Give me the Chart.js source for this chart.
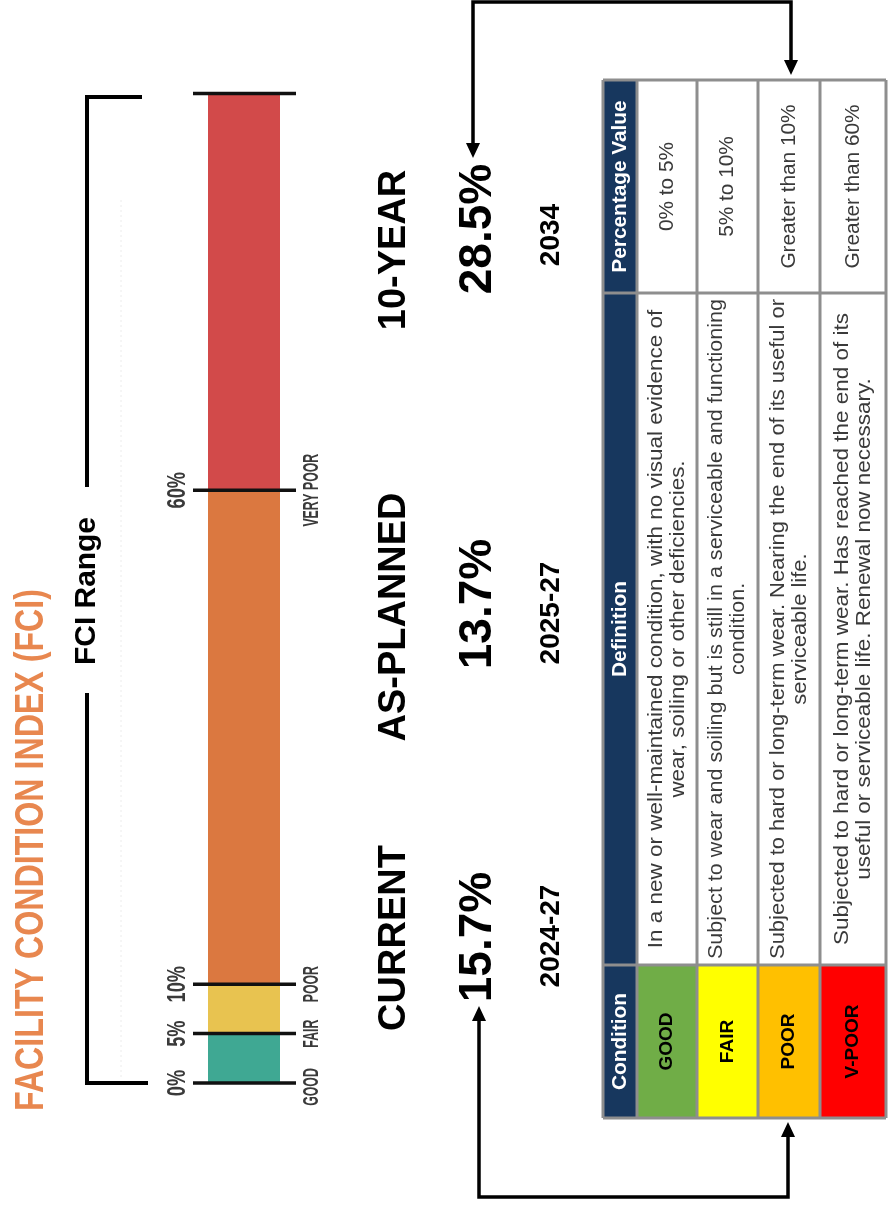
<!DOCTYPE html>
<html>
<head>
<meta charset="utf-8">
<title>Facility Condition Index (FCI)</title>
<script src="https://cdn.jsdelivr.net/npm/chart.js@4.4.1/dist/chart.umd.min.js"></script>
<style>
  html, body { margin: 0; padding: 0; background: #fff; }
  #fci { display: block; }
</style>
</head>
<body>
<canvas id="fci" width="888" height="1209"></canvas>
<script>
// FCI bands (stacked bar, 0% at the bottom)
const bandNames = ['GOOD', 'FAIR', 'POOR', 'VERY POOR'];
const bandSpans = [5, 5, 50, 40];
const bandColors = ['#3fa893', '#e8c350', '#db7840', '#d24a4a'];
const tickValues = [0, 5, 10, 60, 100];
const tickLabels = ['0%', '5%', '10%', '60%', ''];
const bandLabelAt = [0, 5, 10, 60];

// FCI figures
const periods = ['CURRENT', 'AS-PLANNED', '10-YEAR'];
const fciValues = [15.7, 13.7, 28.5];
const periodYears = ['2024-27', '2025-27', '2034'];

// condition table
const tableHeaders = ['Condition', 'Definition', 'Percentage Value'];
const conditions = ['GOOD', 'FAIR', 'POOR', 'V-POOR'];
const conditionColors = ['#70ad47', '#ffff00', '#ffc000', '#ff0000'];
const definitions = [
  ['In a new or well-maintained condition, with no visual evidence of', 'wear, soiling or other deficiencies.'],
  ['Subject to wear and soiling but is still in a serviceable and functioning', 'condition.'],
  ['Subjected to hard or long-term wear. Nearing the end of its useful or', 'serviceable life.'],
  ['Subjected to hard or long-term wear. Has reached the end of its', 'useful or serviceable life. Renewal now necessary.']
];
const pctRanges = ['0% to 5%', '5% to 10%', 'Greater than 10%', 'Greater than 60%'];

const SANS = '"Liberation Sans", Arial, sans-serif';

// text turned to read bottom-to-top, optionally squeezed/stretched to a length
const vText = (ctx, text, cx, cy, font, color, opts = {}) => {
  ctx.save();
  ctx.translate(cx, cy);
  ctx.rotate(-Math.PI / 2);
  ctx.font = font;
  ctx.fillStyle = color;
  ctx.textAlign = 'center';
  ctx.textBaseline = 'middle';
  const w = ctx.measureText(text).width;
  if (opts.length) ctx.scale(opts.length / w, 1);
  else if (opts.sx) ctx.scale(opts.sx, 1);
  ctx.fillText(text, 0, 0);
  ctx.restore();
};

const line = (ctx, pts, width, color) => {
  ctx.save();
  ctx.strokeStyle = color || '#000';
  ctx.lineWidth = width;
  ctx.lineJoin = 'miter';
  ctx.beginPath();
  pts.forEach((p, i) => i ? ctx.lineTo(p[0], p[1]) : ctx.moveTo(p[0], p[1]));
  ctx.stroke();
  ctx.restore();
};

const arrowHead = (ctx, x, y, dir) => {
  // dir: 1 = pointing down, -1 = pointing up
  ctx.save();
  ctx.fillStyle = '#000';
  ctx.beginPath();
  ctx.moveTo(x, y);
  ctx.lineTo(x - 7, y - dir * 15);
  ctx.lineTo(x + 7, y - dir * 15);
  ctx.closePath();
  ctx.fill();
  ctx.restore();
};

const fciExtras = {
  id: 'fciExtras',
  beforeDraw(chart) {
    const ctx = chart.ctx;
    ctx.save();
    ctx.fillStyle = '#fff';
    ctx.fillRect(0, 0, chart.width, chart.height);
    ctx.restore();
  },
  afterDatasetsDraw(chart) {
    const ctx = chart.ctx;
    const y = chart.scales.y;
    const area = chart.chartArea;

    // title
    vText(ctx, 'FACILITY CONDITION INDEX (FCI)', 32, 850, 'bold 40px ' + SANS, '#e8874f', { length: 522 });

    // faint guide line
    ctx.save();
    ctx.strokeStyle = '#ececec';
    ctx.lineWidth = 1;
    ctx.setLineDash([2, 3]);
    ctx.beginPath();
    ctx.moveTo(121, 200);
    ctx.lineTo(121, 1080);
    ctx.stroke();
    ctx.restore();

    // FCI range bracket
    const top = y.getPixelForValue(100), bottom = y.getPixelForValue(0);
    line(ctx, [[142, top + 2], [87, top + 2], [87, 487]], 4);
    line(ctx, [[87, 693], [87, bottom], [148, bottom]], 4);
    vText(ctx, 'FCI Range', 87, 591, 'bold 30px ' + SANS, '#000', { length: 148 });

    // ticks across the bar and their labels
    tickValues.forEach((v, i) => {
      const py = y.getPixelForValue(v) + (v === 100 ? -1.5 : 0);
      line(ctx, [[area.left - 15, py], [area.right + 16, py]], 3.5, '#111');
      if (tickLabels[i]) {
        vText(ctx, tickLabels[i], 178, py, 'bold 26px ' + SANS, '#3a3a3a', { sx: 0.7 });
      }
    });
    bandNames.forEach((name, i) => {
      const py = y.getPixelForValue(bandLabelAt[i]);
      vText(ctx, name, 312, py + (i === 0 ? 4 : 0), 'bold 22px ' + SANS, '#3a3a3a', { sx: 0.56 });
    });

    // period figures
    const labelY = [938, 617, 250];
    const valueY = [937, 604, 229];
    const yearY = [936, 613, 235];
    periods.forEach((p, i) => {
      vText(ctx, p, 395, labelY[i], 'bold 38px ' + SANS, '#000');
      vText(ctx, fciValues[i].toFixed(1) + '%', 478, valueY[i], 'bold 46px ' + SANS, '#000');
      vText(ctx, periodYears[i], 551, yearY[i], 'bold 28px ' + SANS, '#000');
    });

    // arrows
    line(ctx, [[473, 145], [473, 2], [791, 2], [791, 62]], 3.5);
    arrowHead(ctx, 473, 158, 1);
    arrowHead(ctx, 791, 75, 1);
    line(ctx, [[479, 1019], [479, 1197], [788, 1197], [788, 1135]], 3.5);
    arrowHead(ctx, 479, 1006, -1);
    arrowHead(ctx, 788, 1122, -1);

    // table
    const rowX = [603, 637, 697, 758, 820, 886];
    const colY = [80, 293, 965, 1118];
    ctx.save();
    ctx.fillStyle = '#fff';
    ctx.fillRect(rowX[0], colY[0], rowX[5] - rowX[0], colY[3] - colY[0]);
    ctx.fillStyle = '#17375e';
    ctx.fillRect(rowX[0], colY[0], rowX[1] - rowX[0], colY[3] - colY[0]);
    conditions.forEach((c, i) => {
      ctx.fillStyle = conditionColors[i];
      ctx.fillRect(rowX[i + 1], colY[2], rowX[i + 2] - rowX[i + 1], colY[3] - colY[2]);
    });
    ctx.restore();

    ctx.save();
    ctx.strokeStyle = '#8e8e8e';
    ctx.lineWidth = 3;
    rowX.forEach(x => { ctx.beginPath(); ctx.moveTo(x, colY[0]); ctx.lineTo(x, colY[3]); ctx.stroke(); });
    colY.forEach(cy => { ctx.beginPath(); ctx.moveTo(rowX[0], cy); ctx.lineTo(rowX[5], cy); ctx.stroke(); });
    ctx.restore();

    const colMid = [(colY[2] + colY[3]) / 2, (colY[1] + colY[2]) / 2, (colY[0] + colY[1]) / 2];
    const hx = (rowX[0] + rowX[1]) / 2;
    tableHeaders.forEach((h, j) => {
      vText(ctx, h, hx, colMid[j], 'bold 20px ' + SANS, '#fff', { sx: 1.04 });
    });
    const defFont = '21px ' + SANS;
    const maxDef = colY[2] - colY[1] - 12;
    conditions.forEach((c, i) => {
      const cx = (rowX[i + 1] + rowX[i + 2]) / 2;
      vText(ctx, c, cx, colMid[0], 'bold 19px ' + SANS, '#000');
      ctx.font = defFont;
      const longest = Math.max(...definitions[i].map(t => ctx.measureText(t).width));
      const sx = Math.min(1.07, maxDef / longest);
      definitions[i].forEach((t, k) => {
        vText(ctx, t, cx + (k ? 11 : -11), colMid[1], defFont, '#3a3a3a', { sx });
      });
      vText(ctx, pctRanges[i], cx, colMid[2], '20px ' + SANS, '#3a3a3a', { sx: 1.04 });
    });
  }
};

const ctx = document.getElementById('fci').getContext('2d');

new Chart(ctx, {
  type: 'bar',
  data: {
    labels: ['FCI'],
    datasets: bandNames.map((name, i) => ({
      label: name,
      data: [bandSpans[i]],
      backgroundColor: bandColors[i],
      borderWidth: 0,
      barPercentage: 1,
      categoryPercentage: 1,
    }))
  },
  options: {
    responsive: false,
    animation: false,
    events: [],
    layout: { padding: { left: 208, right: 608, top: 95, bottom: 126 } },
    plugins: { legend: { display: false }, tooltip: { enabled: false } },
    scales: {
      x: { stacked: true, display: false },
      y: { stacked: true, display: false, min: 0, max: 100 }
    }
  },
  plugins: [fciExtras]
});
</script>
</body>
</html>
